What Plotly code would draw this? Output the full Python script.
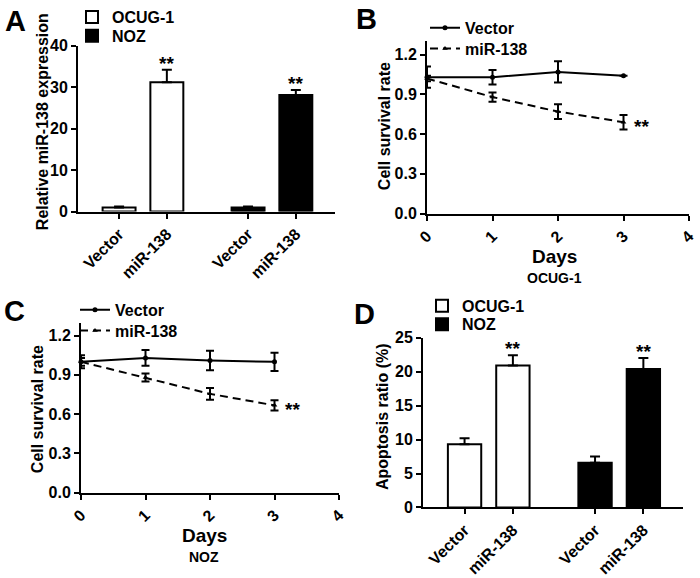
import plotly.graph_objects as go

FONT = "Liberation Sans, Arial, sans-serif"

groups = ["OCUG-1", "NOZ"]
treatments = ["Vector", "miR-138"]

# A: relative miR-138 expression
expr_ocug = [1.0, 31.2]
expr_ocug_err = [0.2, 3.0]
expr_noz = [1.0, 28.1]
expr_noz_err = [0.2, 1.2]

# B / C: cell survival rate by day
days = [0, 1, 2, 3]
surv_ocug_vector = [1.03, 1.03, 1.07, 1.04]
surv_ocug_vector_err = [0.08, 0.055, 0.08, 0.0]
surv_ocug_mir = [1.02, 0.88, 0.77, 0.69]
surv_ocug_mir_err = [0.02, 0.035, 0.055, 0.055]
surv_noz_vector = [1.0, 1.03, 1.01, 1.0]
surv_noz_vector_err = [0.05, 0.06, 0.075, 0.07]
surv_noz_mir = [1.0, 0.88, 0.755, 0.667]
surv_noz_mir_err = [0.03, 0.03, 0.045, 0.04]

# D: apoptosis ratio (%)
apo_ocug = [9.3, 20.9]
apo_ocug_err = [0.9, 1.5]
apo_noz = [6.6, 20.4]
apo_noz_err = [0.9, 1.6]

W, H = 700, 578
bar_pos = [0, 1, 2.7, 3.7]


def px(x):
    return x / W


def py(y):
    return 1 - y / H


fig = go.Figure()


def add_bars(xa, ya, legends, ocug, ocug_err, noz, noz_err):
    for name, xs, vals, errs, fill, lg in [
        (groups[0], bar_pos[:2], ocug, ocug_err, "white", legends[0]),
        (groups[1], bar_pos[2:], noz, noz_err, "black", legends[1]),
    ]:
        fig.add_trace(go.Bar(
            x=xs, y=vals, name=name, width=0.69,
            marker=dict(color=fill, line=dict(color="black", width=2)),
            error_y=dict(type="data", array=errs, arrayminus=[0] * len(errs),
                         symmetric=False, color="black", thickness=2, width=5),
            xaxis=xa, yaxis=ya, legend=lg, cliponaxis=False,
        ))


def add_lines(xa, ya, legends, vec, vec_err, mir, mir_err):
    fig.add_trace(go.Scatter(
        x=days, y=vec, name="Vector", mode="lines+markers",
        line=dict(color="black", width=2),
        marker=dict(symbol="circle", size=5, color="black"),
        error_y=dict(type="data", array=vec_err, color="black", thickness=2, width=4),
        xaxis=xa, yaxis=ya, legend=legends[0], cliponaxis=False,
    ))
    fig.add_trace(go.Scatter(
        x=days, y=mir, name="miR-138", mode="lines+markers",
        line=dict(color="black", width=2, dash="8px,5px"),
        marker=dict(symbol="triangle-up", size=5, color="black"),
        error_y=dict(type="data", array=mir_err, color="black", thickness=2, width=4),
        xaxis=xa, yaxis=ya, legend=legends[1], cliponaxis=False,
    ))


add_bars("x", "y", ["legend", "legend2"], expr_ocug, expr_ocug_err,
         expr_noz, expr_noz_err)
add_lines("x2", "y2", ["legend3", "legend4"], surv_ocug_vector, surv_ocug_vector_err,
          surv_ocug_mir, surv_ocug_mir_err)
add_lines("x3", "y3", ["legend5", "legend6"], surv_noz_vector, surv_noz_vector_err,
          surv_noz_mir, surv_noz_mir_err)
add_bars("x4", "y4", ["legend7", "legend8"], apo_ocug, apo_ocug_err,
         apo_noz, apo_noz_err)

tickfont = dict(family=FONT, size=16, color="black", weight="bold")
axis_style = dict(showline=True, linewidth=2, linecolor="black", ticks="outside",
                  ticklen=5, tickwidth=2, tickcolor="black", showgrid=False,
                  zeroline=False, tickfont=tickfont, fixedrange=True,
                  automargin=False)

bar_x = dict(axis_style, range=[-0.86, 4.52], tickvals=bar_pos,
             ticktext=treatments * 2, tickangle=-45)
day_x = dict(axis_style, range=[0, 4], tickvals=[0, 1, 2, 3, 4], tickangle=-45)
surv_y = dict(axis_style, range=[0, 1.3], tickvals=[0, 0.3, 0.6, 0.9, 1.2],
              tickformat=".1f")

legend_style = dict(font=dict(family=FONT, size=16, color="black", weight="bold"),
                    bgcolor="rgba(0,0,0,0)", xanchor="left", yanchor="middle",
                    itemclick=False, itemdoubleclick=False)

# one legend per entry so each row sits where the reference puts it
legend_rows = {
    "legend": (72, 13), "legend2": (72, 32),
    "legend3": (425, 24), "legend4": (425, 45),
    "legend5": (75, 308), "legend6": (75, 329),
    "legend7": (422, 304), "legend8": (422, 322.5),
}

fig.update_layout(
    template="none",
    width=W, height=H,
    margin=dict(l=0, r=0, t=0, b=0, pad=0),
    paper_bgcolor="white", plot_bgcolor="white",
    barmode="overlay",
    xaxis=dict(bar_x, domain=[px(78), px(335)], anchor="y"),
    yaxis=dict(axis_style, range=[0, 40], tickvals=[0, 10, 20, 30, 40],
               domain=[py(209), py(42)], anchor="x"),
    xaxis2=dict(day_x, domain=[px(427), px(689)], anchor="y2"),
    yaxis2=dict(surv_y, domain=[py(211), py(37.7)], anchor="x2"),
    xaxis3=dict(day_x, domain=[px(81), px(339)], anchor="y3"),
    yaxis3=dict(surv_y, domain=[py(492), py(320.8)], anchor="x3"),
    xaxis4=dict(bar_x, domain=[px(423), px(683)], anchor="y4"),
    yaxis4=dict(axis_style, range=[0, 25], tickvals=[0, 5, 10, 15, 20, 25],
                domain=[py(507), py(336)], anchor="x4"),
    showlegend=True,
)
fig.update_layout({name: dict(legend_style, x=px(x), y=py(y))
                   for name, (x, y) in legend_rows.items()})

title_font = dict(family=FONT, size=16, color="black", weight="bold")
ann = []


def paper_text(text, x, y, font, angle=0):
    return dict(text=text, x=px(x), y=py(y), xref="paper", yref="paper",
                xanchor="center", yanchor="middle", textangle=angle,
                showarrow=False, font=font)


# panel letters
for letter, x, y in [("A", 15, 17), ("B", 367, 15), ("C", 14, 309), ("D", 364, 312)]:
    ann.append(paper_text(letter, x, y, dict(family=FONT, size=29, color="black",
                                             weight="bold")))

# y-axis titles
for text, x, y in [("Relative miR-138 expression", 42, 119),
                   ("Cell survival rate", 384, 123),
                   ("Cell survival rate", 37, 408),
                   ("Apoptosis ratio (%)", 382, 416)]:
    ann.append(paper_text(text, x, y, title_font, angle=-90))

# x-axis titles and cell-line captions
for text, x, y, size in [("Days", 554, 254, 19), ("OCUG-1", 554, 276, 14),
                         ("Days", 204, 535, 19), ("NOZ", 204, 557, 14)]:
    ann.append(paper_text(text, x, y, dict(family=FONT, size=size, color="black",
                                           weight="bold")))

star_font = dict(family=FONT, size=19, color="black", weight="bold")
# significance marks over bars
for xa, ya, vals, errs in [("x", "y", expr_ocug + expr_noz, expr_ocug_err + expr_noz_err),
                           ("x4", "y4", apo_ocug + apo_noz, apo_ocug_err + apo_noz_err)]:
    for i in (1, 3):
        ann.append(dict(text="**", x=bar_pos[i], y=vals[i] + errs[i], xref=xa, yref=ya,
                        xanchor="center", yanchor="bottom", yshift=-6,
                        showarrow=False, font=star_font))

# significance marks next to last survival point
for xa, ya, mir in [("x2", "y2", surv_ocug_mir), ("x3", "y3", surv_noz_mir)]:
    ann.append(dict(text="**", x=days[-1], y=mir[-1], xref=xa, yref=ya,
                    xanchor="left", yanchor="middle", xshift=8, yshift=-4,
                    showarrow=False, font=star_font))

fig.update_layout(annotations=ann)

# drop the browser's default 8px body margin so the figure sits at (0, 0)
fig.write_html("out.html", config={"displayModeBar": False},
               post_script="document.body.style.margin = '0';")
